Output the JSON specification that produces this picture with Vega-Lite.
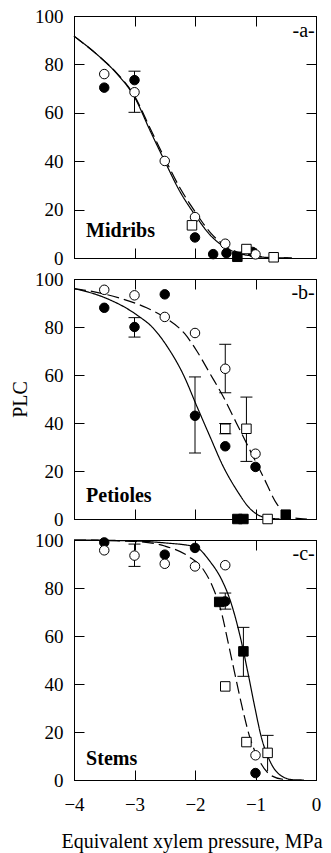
{
  "$schema": "https://vega.github.io/schema/vega-lite/v6.json",
  "padding": {"left": 10, "top": 6, "right": 5, "bottom": 5},
  "bounds": "flush",
  "spacing": 21,
  "config": {
    "font": "Liberation Serif",
    "view": {"stroke": "black", "strokeWidth": 1},
    "style": {"guide-label": {"font": "Liberation Serif"}, "guide-title": {"font": "Liberation Serif"}},
    "axis": {
      "grid": false, "domainColor": "black", "domainWidth": 1, "tickColor": "black", "tickWidth": 1,
      "tickSize": -10, "labelColor": "black", "titleColor": "black",
      "labelFont": "Liberation Serif", "labelFontSize": 19,
      "titleFont": "Liberation Serif", "titleFontSize": 20, "titleFontWeight": "normal",
      "labelFlush": false
    }
  },
  "datasets": {
    "curves": [
      {"panel":"a","fit":"f1","p":-4,"plc":91.7},{"panel":"a","fit":"f1","p":-3.57,"plc":83},{"panel":"a","fit":"f1","p":-3.3,"plc":76.4},{"panel":"a","fit":"f1","p":-3,"plc":66.5},{"panel":"a","fit":"f1","p":-2.74,"plc":52.5},{"panel":"a","fit":"f1","p":-2.5,"plc":40},{"panel":"a","fit":"f1","p":-2.25,"plc":27.5},{"panel":"a","fit":"f1","p":-2,"plc":17.8},{"panel":"a","fit":"f1","p":-1.75,"plc":9.5},{"panel":"a","fit":"f1","p":-1.5,"plc":4.4},{"panel":"a","fit":"f1","p":-1.26,"plc":1.8},{"panel":"a","fit":"f1","p":-1,"plc":0.7},{"panel":"a","fit":"f1","p":-0.7,"plc":0.1},{"panel":"a","fit":"f1","p":-0.4,"plc":0},
      {"panel":"a","fit":"f2","p":-4,"plc":91.7},{"panel":"a","fit":"f2","p":-3.57,"plc":83},{"panel":"a","fit":"f2","p":-3.3,"plc":76.6},{"panel":"a","fit":"f2","p":-3,"plc":67},{"panel":"a","fit":"f2","p":-2.74,"plc":53.5},{"panel":"a","fit":"f2","p":-2.5,"plc":41.2},{"panel":"a","fit":"f2","p":-2.25,"plc":29},{"panel":"a","fit":"f2","p":-2,"plc":19.2},{"panel":"a","fit":"f2","p":-1.75,"plc":10.6},{"panel":"a","fit":"f2","p":-1.5,"plc":5},{"panel":"a","fit":"f2","p":-1.26,"plc":2.1},{"panel":"a","fit":"f2","p":-1,"plc":0.8},{"panel":"a","fit":"f2","p":-0.7,"plc":0.1},{"panel":"a","fit":"f2","p":-0.4,"plc":0},
      {"panel":"b","fit":"f1","p":-4,"plc":96},{"panel":"b","fit":"f1","p":-3.52,"plc":92.5},{"panel":"b","fit":"f1","p":-2.96,"plc":85},{"panel":"b","fit":"f1","p":-2.69,"plc":79.5},{"panel":"b","fit":"f1","p":-2.45,"plc":71.5},{"panel":"b","fit":"f1","p":-2.19,"plc":60},{"panel":"b","fit":"f1","p":-1.97,"plc":47},{"panel":"b","fit":"f1","p":-1.75,"plc":34.2},{"panel":"b","fit":"f1","p":-1.53,"plc":21.7},{"panel":"b","fit":"f1","p":-1.31,"plc":12},{"panel":"b","fit":"f1","p":-1.09,"plc":4.3},{"panel":"b","fit":"f1","p":-0.87,"plc":0.8},{"panel":"b","fit":"f1","p":-0.6,"plc":0},
      {"panel":"b","fit":"f2","p":-4,"plc":96},{"panel":"b","fit":"f2","p":-3.74,"plc":95},{"panel":"b","fit":"f2","p":-3.24,"plc":92},{"panel":"b","fit":"f2","p":-2.8,"plc":88},{"panel":"b","fit":"f2","p":-2.47,"plc":83.5},{"panel":"b","fit":"f2","p":-2.17,"plc":77.2},{"panel":"b","fit":"f2","p":-1.97,"plc":70},{"panel":"b","fit":"f2","p":-1.75,"plc":60.5},{"panel":"b","fit":"f2","p":-1.53,"plc":50.8},{"panel":"b","fit":"f2","p":-1.31,"plc":39.7},{"panel":"b","fit":"f2","p":-1.09,"plc":28.6},{"panel":"b","fit":"f2","p":-0.87,"plc":17.5},{"panel":"b","fit":"f2","p":-0.65,"plc":6.4},{"panel":"b","fit":"f2","p":-0.43,"plc":0.8},{"panel":"b","fit":"f2","p":-0.15,"plc":0},
      {"panel":"c","fit":"f1","p":-4,"plc":100},{"panel":"c","fit":"f1","p":-3,"plc":99.6},{"panel":"c","fit":"f1","p":-2.5,"plc":98.8},{"panel":"c","fit":"f1","p":-2,"plc":97.2},{"panel":"c","fit":"f1","p":-1.75,"plc":91},{"panel":"c","fit":"f1","p":-1.56,"plc":83.5},{"panel":"c","fit":"f1","p":-1.42,"plc":75},{"panel":"c","fit":"f1","p":-1.26,"plc":60.5},{"panel":"c","fit":"f1","p":-1.13,"plc":45.3},{"panel":"c","fit":"f1","p":-1.02,"plc":31.4},{"panel":"c","fit":"f1","p":-0.9,"plc":17.5},{"panel":"c","fit":"f1","p":-0.76,"plc":7.8},{"panel":"c","fit":"f1","p":-0.6,"plc":2.2},{"panel":"c","fit":"f1","p":-0.38,"plc":0.1},{"panel":"c","fit":"f1","p":-0.2,"plc":0},
      {"panel":"c","fit":"f2","p":-4,"plc":100},{"panel":"c","fit":"f2","p":-3,"plc":99.4},{"panel":"c","fit":"f2","p":-2.5,"plc":97.5},{"panel":"c","fit":"f2","p":-2.11,"plc":93.2},{"panel":"c","fit":"f2","p":-1.86,"plc":87.6},{"panel":"c","fit":"f2","p":-1.7,"plc":80},{"panel":"c","fit":"f2","p":-1.56,"plc":69.6},{"panel":"c","fit":"f2","p":-1.45,"plc":57},{"panel":"c","fit":"f2","p":-1.35,"plc":45.3},{"panel":"c","fit":"f2","p":-1.23,"plc":31.4},{"panel":"c","fit":"f2","p":-1.09,"plc":17.5},{"panel":"c","fit":"f2","p":-0.93,"plc":7.8},{"panel":"c","fit":"f2","p":-0.76,"plc":2.2},{"panel":"c","fit":"f2","p":-0.55,"plc":0.3},{"panel":"c","fit":"f2","p":-0.4,"plc":0}
    ],
    "points": [
      {"panel":"a","series":"s1","p":-3.5,"plc":70.4},{"panel":"a","series":"s1","p":-3,"plc":73.5},{"panel":"a","series":"s1","p":-2,"plc":8.5},{"panel":"a","series":"s1","p":-1.7,"plc":1.6},{"panel":"a","series":"s1","p":-1.48,"plc":2},{"panel":"a","series":"s1","p":-1.05,"plc":2.5},
      {"panel":"a","series":"s2","p":-3.5,"plc":76},{"panel":"a","series":"s2","p":-3,"plc":68.5},{"panel":"a","series":"s2","p":-2.5,"plc":40.1},{"panel":"a","series":"s2","p":-2,"plc":16.9},{"panel":"a","series":"s2","p":-1.5,"plc":5.9},{"panel":"a","series":"s2","p":-1,"plc":1.5},
      {"panel":"a","series":"s3","p":-1.3,"plc":0.5},
      {"panel":"a","series":"s4","p":-2.05,"plc":13.5},{"panel":"a","series":"s4","p":-1.15,"plc":3.7},{"panel":"a","series":"s4","p":-0.7,"plc":0.3},
      {"panel":"b","series":"s1","p":-3.5,"plc":88},{"panel":"b","series":"s1","p":-3,"plc":80},{"panel":"b","series":"s1","p":-2.5,"plc":93.6},{"panel":"b","series":"s1","p":-2,"plc":43},{"panel":"b","series":"s1","p":-1.5,"plc":30.3},{"panel":"b","series":"s1","p":-1,"plc":21.7},
      {"panel":"b","series":"s2","p":-3.5,"plc":95.5},{"panel":"b","series":"s2","p":-3,"plc":93.2},{"panel":"b","series":"s2","p":-2.5,"plc":84.2},{"panel":"b","series":"s2","p":-2,"plc":77.5},{"panel":"b","series":"s2","p":-1.5,"plc":62.6},{"panel":"b","series":"s2","p":-1,"plc":27.2},
      {"panel":"b","series":"s3","p":-1.3,"plc":0},{"panel":"b","series":"s3","p":-1.2,"plc":0},{"panel":"b","series":"s3","p":-0.5,"plc":1.8},
      {"panel":"b","series":"s4","p":-1.5,"plc":37.6},{"panel":"b","series":"s4","p":-1.15,"plc":37.6},{"panel":"b","series":"s4","p":-0.8,"plc":0},
      {"panel":"c","series":"s1","p":-3.5,"plc":99},{"panel":"c","series":"s1","p":-2.5,"plc":93.9},{"panel":"c","series":"s1","p":-2,"plc":96.7},{"panel":"c","series":"s1","p":-1.5,"plc":74.4},{"panel":"c","series":"s1","p":-1,"plc":2.9},
      {"panel":"c","series":"s2","p":-3.5,"plc":95.7},{"panel":"c","series":"s2","p":-3,"plc":93.5},{"panel":"c","series":"s2","p":-2.5,"plc":90.1},{"panel":"c","series":"s2","p":-2,"plc":89},{"panel":"c","series":"s2","p":-1.5,"plc":89.5},{"panel":"c","series":"s2","p":-1,"plc":10.3},
      {"panel":"c","series":"s3","p":-1.6,"plc":74.2},{"panel":"c","series":"s3","p":-1.2,"plc":53.6},
      {"panel":"c","series":"s4","p":-1.5,"plc":39},{"panel":"c","series":"s4","p":-1.15,"plc":15.8},{"panel":"c","series":"s4","p":-0.8,"plc":11.3}
    ],
    "errbars": [
      {"panel":"a","p":-3,"lo":73.5,"hi":77.2},{"panel":"a","p":-3,"lo":60.2,"hi":68.5},
      {"panel":"b","p":-3,"lo":75.8,"hi":83.9},{"panel":"b","p":-2,"lo":27.5,"hi":59.2},{"panel":"b","p":-1.5,"lo":52.6,"hi":72.8},{"panel":"b","p":-1.15,"lo":24,"hi":50.8},{"panel":"b","p":-1.5,"lo":35.5,"hi":39.8},
      {"panel":"c","p":-3,"lo":89,"hi":98.3},{"panel":"c","p":-1.5,"lo":71.2,"hi":77.9},{"panel":"c","p":-1.2,"lo":43.2,"hi":63.6},{"panel":"c","p":-0.8,"lo":3.7,"hi":18.6}
    ],
    "caps": [
      {"panel":"a","p":-3,"plc":77.2},{"panel":"a","p":-3,"plc":60.2},
      {"panel":"b","p":-3,"plc":75.8},{"panel":"b","p":-3,"plc":83.9},{"panel":"b","p":-2,"plc":27.5},{"panel":"b","p":-2,"plc":59.2},{"panel":"b","p":-1.5,"plc":52.6},{"panel":"b","p":-1.5,"plc":72.8},{"panel":"b","p":-1.15,"plc":24},{"panel":"b","p":-1.15,"plc":50.8},{"panel":"b","p":-1.5,"plc":35.5},{"panel":"b","p":-1.5,"plc":39.8},
      {"panel":"c","p":-3,"plc":89},{"panel":"c","p":-3,"plc":98.3},{"panel":"c","p":-1.5,"plc":71.2},{"panel":"c","p":-1.5,"plc":77.9},{"panel":"c","p":-1.2,"plc":43.2},{"panel":"c","p":-1.2,"plc":63.6},{"panel":"c","p":-0.8,"plc":18.6}
    ],
    "organs": [
      {"panel":"a","p":-3.8,"plc":8.5,"text":"Midribs"},
      {"panel":"b","p":-3.8,"plc":7.1,"text":"Petioles"},
      {"panel":"c","p":-3.8,"plc":6.1,"text":"Stems"}
    ],
    "tags": [
      {"panel":"a","p":-0.02,"plc":91.5,"text":"-a-"},
      {"panel":"b","p":-0.02,"plc":91.5,"text":"-b-"},
      {"panel":"c","p":-0.02,"plc":91.5,"text":"-c-"}
    ]
  },
  "vconcat": [
    {
      "width": 242, "height": 242,
      "resolve": {"axis": {"x": "independent", "y": "independent"}},
      "layer": [
        {
          "data": {"name": "curves"}, "transform": [{"filter": "datum.panel == 'a'"}],
          "mark": {"type": "line", "interpolate": "monotone", "color": "black", "strokeWidth": 1.2},
          "encoding": {
            "x": {"field": "p", "type": "quantitative", "scale": {"domain": [-4, 0], "nice": false, "zero": false}, "axis": {"orient": "bottom", "values": [-4,-3,-2,-1,0], "labels": false, "title": null}},
            "y": {"field": "plc", "type": "quantitative", "scale": {"domain": [0, 100], "nice": false}, "axis": {"orient": "left", "values": [0,20,40,60,80,100], "labelPadding": 21, "labelFont": "Liberation Serif", "title": null}},
            "strokeDash": {"field": "fit", "type": "nominal", "scale": {"domain": ["f1","f2"], "range": [[1,0],[12,5]]}, "legend": null}
          }
        },
        {
          "data": {"name": "errbars"}, "transform": [{"filter": "datum.panel == 'a'"}],
          "mark": {"type": "rule", "color": "black", "strokeWidth": 1},
          "encoding": {
            "x": {"field": "p", "type": "quantitative", "scale": {"domain": [-4, 0], "nice": false, "zero": false}, "axis": {"orient": "top", "values": [-4,-3,-2,-1,0], "labels": false, "title": null}},
            "y": {"field": "lo", "type": "quantitative", "scale": {"domain": [0, 100], "nice": false}, "axis": {"orient": "right", "values": [0,20,40,60,80,100], "labels": false, "title": null}},
            "y2": {"field": "hi"}
          }
        },
        {
          "data": {"name": "caps"}, "transform": [{"filter": "datum.panel == 'a'"}],
          "mark": {"type": "tick", "orient": "horizontal", "size": 12, "thickness": 1, "color": "black", "opacity": 1},
          "encoding": {
            "x": {"field": "p", "type": "quantitative", "axis": null},
            "y": {"field": "plc", "type": "quantitative", "axis": null}
          }
        },
        {
          "data": {"name": "points"}, "transform": [{"filter": "datum.panel == 'a'"}],
          "mark": {"type": "point", "filled": true, "stroke": "black", "strokeWidth": 1, "opacity": 1, "size": 90},
          "encoding": {
            "x": {"field": "p", "type": "quantitative", "axis": null},
            "y": {"field": "plc", "type": "quantitative", "axis": null},
            "shape": {"field": "series", "type": "nominal", "scale": {"domain": ["s1","s2","s3","s4"], "range": ["circle","circle","square","square"]}, "legend": null},
            "fill": {"field": "series", "type": "nominal", "scale": {"domain": ["s1","s2","s3","s4"], "range": ["black","white","black","white"]}, "legend": null}
          }
        },
        {
          "data": {"name": "organs"}, "transform": [{"filter": "datum.panel == 'a'"}],
          "mark": {"type": "text", "align": "left", "baseline": "alphabetic", "fontSize": 20, "fontWeight": "bold", "font": "Liberation Serif", "color": "black"},
          "encoding": {
            "x": {"field": "p", "type": "quantitative", "axis": null},
            "y": {"field": "plc", "type": "quantitative", "axis": null},
            "text": {"field": "text"}
          }
        },
        {
          "data": {"name": "tags"}, "transform": [{"filter": "datum.panel == 'a'"}],
          "mark": {"type": "text", "align": "right", "baseline": "alphabetic", "fontSize": 20, "font": "Liberation Serif", "color": "black"},
          "encoding": {
            "x": {"field": "p", "type": "quantitative", "axis": null},
            "y": {"field": "plc", "type": "quantitative", "axis": null},
            "text": {"field": "text"}
          }
        }
      ]
    },
    {
      "width": 242, "height": 240,
      "resolve": {"axis": {"x": "independent", "y": "independent"}},
      "layer": [
        {
          "data": {"name": "curves"}, "transform": [{"filter": "datum.panel == 'b'"}],
          "mark": {"type": "line", "interpolate": "monotone", "color": "black", "strokeWidth": 1.2},
          "encoding": {
            "x": {"field": "p", "type": "quantitative", "scale": {"domain": [-4, 0], "nice": false, "zero": false}, "axis": {"orient": "bottom", "values": [-4,-3,-2,-1,0], "labels": false, "title": null}},
            "y": {"field": "plc", "type": "quantitative", "scale": {"domain": [0, 100], "nice": false}, "axis": {"orient": "left", "values": [0,20,40,60,80,100], "labelPadding": 21, "labelFont": "Liberation Serif", "title": "PLC", "titleFont": "Liberation Serif", "titlePadding": 4}},
            "strokeDash": {"field": "fit", "type": "nominal", "scale": {"domain": ["f1","f2"], "range": [[1,0],[12,5]]}, "legend": null}
          }
        },
        {
          "data": {"name": "errbars"}, "transform": [{"filter": "datum.panel == 'b'"}],
          "mark": {"type": "rule", "color": "black", "strokeWidth": 1},
          "encoding": {
            "x": {"field": "p", "type": "quantitative", "scale": {"domain": [-4, 0], "nice": false, "zero": false}, "axis": {"orient": "top", "values": [-4,-3,-2,-1,0], "labels": false, "title": null}},
            "y": {"field": "lo", "type": "quantitative", "scale": {"domain": [0, 100], "nice": false}, "axis": {"orient": "right", "values": [0,20,40,60,80,100], "labels": false, "title": null}},
            "y2": {"field": "hi"}
          }
        },
        {
          "data": {"name": "caps"}, "transform": [{"filter": "datum.panel == 'b'"}],
          "mark": {"type": "tick", "orient": "horizontal", "size": 12, "thickness": 1, "color": "black", "opacity": 1},
          "encoding": {
            "x": {"field": "p", "type": "quantitative", "axis": null},
            "y": {"field": "plc", "type": "quantitative", "axis": null}
          }
        },
        {
          "data": {"name": "points"}, "transform": [{"filter": "datum.panel == 'b'"}],
          "mark": {"type": "point", "filled": true, "stroke": "black", "strokeWidth": 1, "opacity": 1, "size": 90},
          "encoding": {
            "x": {"field": "p", "type": "quantitative", "axis": null},
            "y": {"field": "plc", "type": "quantitative", "axis": null},
            "shape": {"field": "series", "type": "nominal", "scale": {"domain": ["s1","s2","s3","s4"], "range": ["circle","circle","square","square"]}, "legend": null},
            "fill": {"field": "series", "type": "nominal", "scale": {"domain": ["s1","s2","s3","s4"], "range": ["black","white","black","white"]}, "legend": null}
          }
        },
        {
          "data": {"name": "organs"}, "transform": [{"filter": "datum.panel == 'b'"}],
          "mark": {"type": "text", "align": "left", "baseline": "alphabetic", "fontSize": 20, "fontWeight": "bold", "font": "Liberation Serif", "color": "black"},
          "encoding": {
            "x": {"field": "p", "type": "quantitative", "axis": null},
            "y": {"field": "plc", "type": "quantitative", "axis": null},
            "text": {"field": "text"}
          }
        },
        {
          "data": {"name": "tags"}, "transform": [{"filter": "datum.panel == 'b'"}],
          "mark": {"type": "text", "align": "right", "baseline": "alphabetic", "fontSize": 20, "font": "Liberation Serif", "color": "black"},
          "encoding": {
            "x": {"field": "p", "type": "quantitative", "axis": null},
            "y": {"field": "plc", "type": "quantitative", "axis": null},
            "text": {"field": "text"}
          }
        }
      ]
    },
    {
      "width": 242, "height": 240,
      "resolve": {"axis": {"x": "independent", "y": "independent"}},
      "layer": [
        {
          "data": {"name": "curves"}, "transform": [{"filter": "datum.panel == 'c'"}],
          "mark": {"type": "line", "interpolate": "monotone", "color": "black", "strokeWidth": 1.2},
          "encoding": {
            "x": {"field": "p", "type": "quantitative", "scale": {"domain": [-4, 0], "nice": false, "zero": false}, "axis": {"orient": "bottom", "values": [-4,-3,-2,-1,0], "labelPadding": 25, "labelFont": "Liberation Serif", "title": "Equivalent xylem pressure, MPa", "titleFont": "Liberation Serif", "titlePadding": 17, "titleX": 117.5}},
            "y": {"field": "plc", "type": "quantitative", "scale": {"domain": [0, 100], "nice": false}, "axis": {"orient": "left", "values": [0,20,40,60,80,100], "labelPadding": 21, "labelFont": "Liberation Serif", "title": null}},
            "strokeDash": {"field": "fit", "type": "nominal", "scale": {"domain": ["f1","f2"], "range": [[1,0],[12,5]]}, "legend": null}
          }
        },
        {
          "data": {"name": "errbars"}, "transform": [{"filter": "datum.panel == 'c'"}],
          "mark": {"type": "rule", "color": "black", "strokeWidth": 1},
          "encoding": {
            "x": {"field": "p", "type": "quantitative", "scale": {"domain": [-4, 0], "nice": false, "zero": false}, "axis": {"orient": "top", "values": [-4,-3,-2,-1,0], "labels": false, "title": null}},
            "y": {"field": "lo", "type": "quantitative", "scale": {"domain": [0, 100], "nice": false}, "axis": {"orient": "right", "values": [0,20,40,60,80,100], "labels": false, "title": null}},
            "y2": {"field": "hi"}
          }
        },
        {
          "data": {"name": "caps"}, "transform": [{"filter": "datum.panel == 'c'"}],
          "mark": {"type": "tick", "orient": "horizontal", "size": 12, "thickness": 1, "color": "black", "opacity": 1},
          "encoding": {
            "x": {"field": "p", "type": "quantitative", "axis": null},
            "y": {"field": "plc", "type": "quantitative", "axis": null}
          }
        },
        {
          "data": {"name": "points"}, "transform": [{"filter": "datum.panel == 'c'"}],
          "mark": {"type": "point", "filled": true, "stroke": "black", "strokeWidth": 1, "opacity": 1, "size": 90},
          "encoding": {
            "x": {"field": "p", "type": "quantitative", "axis": null},
            "y": {"field": "plc", "type": "quantitative", "axis": null},
            "shape": {"field": "series", "type": "nominal", "scale": {"domain": ["s1","s2","s3","s4"], "range": ["circle","circle","square","square"]}, "legend": null},
            "fill": {"field": "series", "type": "nominal", "scale": {"domain": ["s1","s2","s3","s4"], "range": ["black","white","black","white"]}, "legend": null}
          }
        },
        {
          "data": {"name": "organs"}, "transform": [{"filter": "datum.panel == 'c'"}],
          "mark": {"type": "text", "align": "left", "baseline": "alphabetic", "fontSize": 20, "fontWeight": "bold", "font": "Liberation Serif", "color": "black"},
          "encoding": {
            "x": {"field": "p", "type": "quantitative", "axis": null},
            "y": {"field": "plc", "type": "quantitative", "axis": null},
            "text": {"field": "text"}
          }
        },
        {
          "data": {"name": "tags"}, "transform": [{"filter": "datum.panel == 'c'"}],
          "mark": {"type": "text", "align": "right", "baseline": "alphabetic", "fontSize": 20, "font": "Liberation Serif", "color": "black"},
          "encoding": {
            "x": {"field": "p", "type": "quantitative", "axis": null},
            "y": {"field": "plc", "type": "quantitative", "axis": null},
            "text": {"field": "text"}
          }
        }
      ]
    }
  ]
}
